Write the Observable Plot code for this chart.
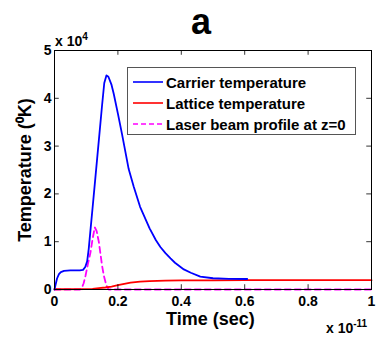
<!DOCTYPE html>
<html>
<head>
<meta charset="utf-8">
<script src="https://cdn.jsdelivr.net/npm/d3@7"></script>
<script src="https://cdn.jsdelivr.net/npm/@observablehq/plot@0.6"></script>
<style>
  body { margin: 0; background: #fff; font-family: "Liberation Sans", Arial, sans-serif; }
  #wrap { position: relative; width: 376px; height: 339px; overflow: hidden; }
  .abs { position: absolute; white-space: nowrap; font-weight: bold; color: #000; }
  .sup { position: relative; top: -6px; font-size: 10px; }
  #legend { position: absolute; left: 127px; top: 67px; width: 229px; height: 68px; border: 1px solid #555; background: #fff; box-sizing: border-box; }
  .row { position: absolute; left: 5px; height: 20px; display: flex; align-items: center; font-size: 15px; font-weight: bold; }
  .row svg { margin-right: 3px; }
</style>
</head>
<body>
<div id="wrap"></div>
<script>
// Time axis in units of 1e-11 s, temperature in K
const carrierTime = [0, 0.003, 0.008, 0.014, 0.02, 0.03, 0.05, 0.08, 0.09, 0.097, 0.103, 0.108, 0.114, 0.12, 0.127, 0.134, 0.14, 0.15, 0.157, 0.164, 0.17, 0.18, 0.187, 0.2, 0.213, 0.234, 0.25, 0.27, 0.3, 0.32, 0.334, 0.35, 0.366, 0.38, 0.408, 0.43, 0.46, 0.5, 0.55, 0.608];
const carrierTemp = [0, 900, 2300, 3200, 3650, 3900, 4000, 4000, 4100, 4700, 5900, 8500, 12800, 17000, 22000, 27000, 31300, 38500, 43200, 44800, 44500, 42800, 40900, 36800, 32500, 25200, 21500, 17300, 12800, 10300, 8900, 7600, 6500, 5600, 4200, 3500, 2700, 2350, 2220, 2200];

const latticeTime = [0, 0.1, 0.12, 0.14, 0.16, 0.18, 0.2, 0.22, 0.24, 0.27, 0.3, 0.35, 0.4, 0.5, 0.6, 1.0];
const latticeTemp = [50, 80, 150, 280, 420, 600, 900, 1200, 1450, 1650, 1760, 1850, 1900, 1930, 1950, 1950];

const laserTime = [0, 0.08, 0.087, 0.092, 0.098, 0.105, 0.1136, 0.12, 0.127, 0.133, 0.14, 0.15, 0.156, 0.161, 0.166, 0.171, 1.0];
const laserTemp = [0, 0, 480, 1300, 2930, 5200, 7800, 10500, 13000, 12200, 9900, 5000, 2800, 1530, 500, 0, 0];

const xTicks = [0, 0.2, 0.4, 0.6, 0.8, 1];
const yTicks = [0, 10000, 20000, 30000, 40000, 50000];

const seriesNames = ["Carrier temperature", "Lattice temperature", "Laser beam profile at z=0"];
const seriesColors = ["#0000ff", "#ff0000", "#ff00ff"];

const toPts = (ts, vs) => ts.map((t, i) => ({t, v: vs[i]}));
const carrier = toPts(carrierTime, carrierTemp);
const lattice = toPts(latticeTime, latticeTemp);
const laser = toPts(laserTime, laserTemp);

const fmtX = d => String(+d.toFixed(2));
const fmtY = d => String(d / 10000);

const plot = Plot.plot({
  width: 376,
  height: 339,
  marginLeft: 54,
  marginRight: 5,
  marginTop: 50,
  marginBottom: 50,
  x: {domain: [0, 1]},
  y: {domain: [0, 50000]},
  style: {fontFamily: "Liberation Sans, Arial, sans-serif", color: "#000", background: "#fff"},
  marks: [
    Plot.line(laser, {x: "t", y: "v", stroke: seriesColors[2], strokeWidth: 1.8, strokeDasharray: "6,4"}),
    Plot.line(lattice, {x: "t", y: "v", stroke: seriesColors[1], strokeWidth: 1.8}),
    Plot.line(carrier, {x: "t", y: "v", stroke: seriesColors[0], strokeWidth: 1.8}),
    // inward ticks (MATLAB style)
    Plot.ruleX(xTicks, {x: d => d, y1: 0, y2: 1000, stroke: "#000", strokeWidth: 0.8}),
    Plot.ruleX(xTicks, {x: d => d, y1: 50000, y2: 49000, stroke: "#000", strokeWidth: 0.8}),
    Plot.ruleY(yTicks, {y: d => d, x1: 0, x2: 0.015, stroke: "#000", strokeWidth: 0.8}),
    Plot.ruleY(yTicks, {y: d => d, x1: 1, x2: 0.985, stroke: "#000", strokeWidth: 0.8}),
    Plot.frame({stroke: "#000", strokeWidth: 1}),
    Plot.axisX({ticks: xTicks, tickFormat: fmtX, tickSize: 0, tickPadding: 7, fontSize: 14, fontWeight: "bold",
      label: null}),
    Plot.axisY({ticks: yTicks, tickFormat: fmtY, tickSize: 0, tickPadding: 3, fontSize: 14, fontWeight: "bold",
      label: "Temperature (\u2070K)", labelAnchor: "center", labelOffset: 36, labelArrow: false})
  ]
});
plot.querySelectorAll("g[aria-label='y-axis label'] text").forEach(t => {
  t.setAttribute("font-size", "18");
});
const wrap = document.getElementById("wrap");
wrap.appendChild(plot);

// title
const title = document.createElement("div");
title.className = "abs";
title.style.cssText = "left:191px;top:2px;font-size:36px;line-height:40px;";
title.textContent = "a";
wrap.appendChild(title);

// x axis label
const xl = document.createElement("div");
xl.className = "abs";
xl.style.cssText = "left:166px;top:309px;font-size:18px;line-height:20px;";
xl.textContent = "Time (sec)";
wrap.appendChild(xl);

// exponent labels
const e1 = document.createElement("div");
e1.className = "abs";
e1.style.cssText = "left:55px;top:33px;font-size:14px;line-height:16px;";
e1.innerHTML = "x 10<span class='sup'>4</span>";
wrap.appendChild(e1);
const e2 = document.createElement("div");
e2.className = "abs";
e2.style.cssText = "left:326px;top:320px;font-size:14px;line-height:16px;";
e2.innerHTML = "x 10<span class='sup'>-11</span>";
wrap.appendChild(e2);

// legend
const legend = document.createElement("div");
legend.id = "legend";
const dashes = [null, null, "5,3"];
seriesNames.forEach((name, i) => {
  const row = document.createElement("div");
  row.className = "row";
  row.style.top = (4 + i * 21) + "px";
  row.innerHTML = `<svg width="30" height="4"><line x1="0" y1="2" x2="30" y2="2" stroke="${seriesColors[i]}" stroke-width="1.6" ${dashes[i] ? `stroke-dasharray="${dashes[i]}"` : ""}/></svg><span>${name}</span>`;
  legend.appendChild(row);
});
wrap.appendChild(legend);
</script>
</body>
</html>
